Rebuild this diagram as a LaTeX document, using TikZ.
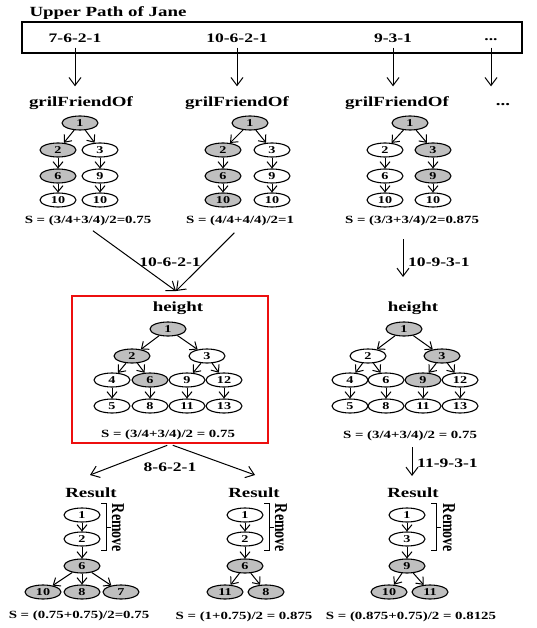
\documentclass[tikz,border=0pt]{standalone}
\usepackage{fontspec}
\setmainfont{Liberation Serif}[FakeStretch=1.35]
\newfontfamily\remfont{Liberation Serif}
\usetikzlibrary{arrows.meta, shapes}
\definecolor{hitgray}{rgb}{0.75,0.75,0.75}
\definecolor{boxred}{rgb}{0.93,0.06,0.06}

\begin{document}
\begin{tikzpicture}[x=1pt, y=-1pt, >={Straight Barb[length=6pt,width=10pt]}]
\tikzstyle{vertex_w}=[ellipse, draw=black, line width=1.1pt, fill=white, minimum width=36pt, minimum height=14pt, inner sep=0pt, font=\fontsize{10.5}{11}\selectfont\bfseries]
\tikzstyle{vertex_g}=[vertex_w, fill=hitgray]
\tikzstyle{title_t}=[font=\fontsize{14}{16}\selectfont\bfseries, inner sep=1pt]
\tikzstyle{path_t}=[font=\fontsize{13}{15}\selectfont\bfseries, inner sep=2pt]
\tikzstyle{score_t}=[font=\fontsize{11}{13}\selectfont\bfseries, inner sep=1pt]
\tikzstyle{remove_t}=[rotate=-90, font=\remfont\fontsize{14}{16}\selectfont\bfseries, inner sep=0pt]
\tikzstyle{edge}=[->, line width=1pt]
\tikzstyle{bigedge}=[-{Straight Barb[length=8pt,width=12pt]}, line width=1pt]

\useasboundingbox (0,0) rectangle (536,628);

\path (108,13) node[title_t](upper) {Upper Path of Jane}
      (272,37.5) node[draw, line width=1.2pt, minimum width=500pt, minimum height=31pt, inner sep=0pt](pathbox) {};

\path (75,38) node[path_t](p1) {7-6-2-1}
      (237,38) node[path_t](p2) {10-6-2-1}
      (393,38) node[path_t](p3) {9-3-1}
      (491,40) node[path_t](p4) {...};

\path (81,103) node[title_t](tA) {grilFriendOf}
      (237,103) node[title_t](tB) {grilFriendOf}
      (397,103) node[title_t](tC) {grilFriendOf}
      (503,105) node[title_t](tD) {...};

\draw[bigedge, shorten <=3pt, shorten >=9pt] (p1.south) -- (p1.south |- tA.north);
\draw[bigedge, shorten <=3pt, shorten >=9pt] (p2.south) -- (p2.south |- tA.north);
\draw[bigedge, shorten <=3pt, shorten >=9pt] (p3.south) -- (p3.south |- tA.north);
\draw[bigedge, shorten <=3pt, shorten >=9pt] (p4.south |- p1.south) -- (p4.south |- tA.north);

\path (80,123) node[vertex_g](a1) {1}
      (58,150) node[vertex_g](a2) {2}
      (100,150) node[vertex_w](a3) {3}
      (58,176) node[vertex_g](a6) {6}
      (100,176) node[vertex_w](a9) {9}
      (58,200) node[vertex_w](a10) {10}
      (100,200) node[vertex_w](a10r) {10};

\path (250,123) node[vertex_g](b1) {1}
      (223,150) node[vertex_g](b2) {2}
      (272,150) node[vertex_w](b3) {3}
      (223,176) node[vertex_g](b6) {6}
      (272,176) node[vertex_w](b9) {9}
      (223,200) node[vertex_g](b10) {10}
      (272,200) node[vertex_w](b10r) {10};

\path (410,123) node[vertex_g](c1) {1}
      (385,150) node[vertex_w](c2) {2}
      (433,150) node[vertex_g](c3) {3}
      (385,176) node[vertex_w](c6) {6}
      (433,176) node[vertex_g](c9) {9}
      (385,200) node[vertex_w](c10) {10}
      (433,200) node[vertex_w](c10r) {10};

\draw[edge] (a1) -- (a2);
\draw[edge] (a1) -- (a3);
\draw[edge] (a2) -- (a6);
\draw[edge] (a3) -- (a9);
\draw[edge] (a6) -- (a10);
\draw[edge] (a9) -- (a10r);
\draw[edge] (b1) -- (b2);
\draw[edge] (b1) -- (b3);
\draw[edge] (b2) -- (b6);
\draw[edge] (b3) -- (b9);
\draw[edge] (b6) -- (b10);
\draw[edge] (b9) -- (b10r);
\draw[edge] (c1) -- (c2);
\draw[edge] (c1) -- (c3);
\draw[edge] (c2) -- (c6);
\draw[edge] (c3) -- (c9);
\draw[edge] (c6) -- (c10);
\draw[edge] (c9) -- (c10r);

\path (88,221) node[score_t](sA) {S = (3/4+3/4)/2=0.75}
      (240,221) node[score_t](sB) {S = (4/4+4/4)/2=1}
      (412,221) node[score_t](sC) {S = (3/3+3/4)/2=0.875};

\coordinate (hIn) at (176,291);
\coordinate (hRIn) at (403,277);
\draw[bigedge, shorten <=6pt] (sA.south) -- (hIn);
\draw[bigedge, shorten <=8pt] (sB.south) -- (hIn);
\draw[bigedge, shorten <=12pt] (sC.south -| hRIn) -- (hRIn);
\path (170,262) node[path_t](lA) {10-6-2-1}
      (406,262) node[path_t, anchor=west](lC) {10-9-3-1};

\path (170,369.5) node[draw=boxred, line width=2.5pt, minimum width=196pt, minimum height=147pt, inner sep=0pt](hBox) {};

\path (178,308) node[title_t](hL) {height}
      (413,308) node[title_t](hR) {height};

\path (168,329) node[vertex_g](e1) {1}
      (132,356) node[vertex_g](e2) {2}
      (207,356) node[vertex_w](e3) {3}
      (112,380) node[vertex_w](e4) {4}
      (150,380) node[vertex_g](e6) {6}
      (187,380) node[vertex_w](e9) {9}
      (224,380) node[vertex_w](e12) {12}
      (112,406) node[vertex_w](e5) {5}
      (150,406) node[vertex_w](e8) {8}
      (187,406) node[vertex_w](e11) {11}
      (224,406) node[vertex_w](e13) {13};

\path (404,329) node[vertex_g](f1) {1}
      (368,356) node[vertex_w](f2) {2}
      (442,356) node[vertex_g](f3) {3}
      (350,380) node[vertex_w](f4) {4}
      (386,380) node[vertex_w](f6) {6}
      (423,380) node[vertex_g](f9) {9}
      (460,380) node[vertex_w](f12) {12}
      (350,406) node[vertex_w](f5) {5}
      (386,406) node[vertex_w](f8) {8}
      (423,406) node[vertex_w](f11) {11}
      (460,406) node[vertex_w](f13) {13};

\draw[edge] (e1) -- (e2);
\draw[edge] (e1) -- (e3);
\draw[edge] (e2) -- (e4);
\draw[edge] (e2) -- (e6);
\draw[edge] (e3) -- (e9);
\draw[edge] (e3) -- (e12);
\draw[edge] (e4) -- (e5);
\draw[edge] (e6) -- (e8);
\draw[edge] (e9) -- (e11);
\draw[edge] (e12) -- (e13);
\draw[edge] (f1) -- (f2);
\draw[edge] (f1) -- (f3);
\draw[edge] (f2) -- (f4);
\draw[edge] (f2) -- (f6);
\draw[edge] (f3) -- (f9);
\draw[edge] (f3) -- (f12);
\draw[edge] (f4) -- (f5);
\draw[edge] (f6) -- (f8);
\draw[edge] (f9) -- (f11);
\draw[edge] (f12) -- (f13);

\path (168,435) node[score_t](hsL) {S = (3/4+3/4)/2 = 0.75}
      (410,436) node[score_t](hsR) {S = (3/4+3/4)/2 = 0.75};

\coordinate (rAIn) at (90,475);
\coordinate (rBIn) at (255,475);
\coordinate (rCIn) at (412,476);
\draw[bigedge, shorten <=3pt] (hBox.south) -- (rAIn);
\draw[bigedge, shorten <=3pt] (hBox.south) -- (rBIn);
\draw[bigedge, shorten <=5pt] (hsR.south -| rCIn) -- (rCIn);
\path (170,467) node[path_t](lD) {8-6-2-1}
      (415,463) node[path_t, anchor=west](lE) {11-9-3-1};

\path (91,493) node[title_t](rA) {Result}
      (254,493) node[title_t](rB) {Result}
      (413,493) node[title_t](rC) {Result};

\path (82,515) node[vertex_w](ra1) {1}
      (82,539) node[vertex_w](ra2) {2}
      (82,566) node[vertex_g](ra6) {6}
      (43,592) node[vertex_g](ra10) {10}
      (82,592) node[vertex_g](ra8) {8}
      (121,592) node[vertex_g](ra7) {7};

\path (245,515) node[vertex_w](rb1) {1}
      (245,539) node[vertex_w](rb2) {2}
      (245,566) node[vertex_g](rb6) {6}
      (225,592) node[vertex_g](rb11) {11}
      (266,592) node[vertex_g](rb8) {8};

\path (407,515) node[vertex_w](rc1) {1}
      (407,539) node[vertex_w](rc3) {3}
      (407,566) node[vertex_g](rc9) {9}
      (389,592) node[vertex_g](rc10) {10}
      (430,592) node[vertex_g](rc11) {11};

\draw[edge] (ra1) -- (ra2);
\draw[edge] (ra2) -- (ra6);
\draw[edge] (ra6) -- (ra10);
\draw[edge] (ra6) -- (ra8);
\draw[edge] (ra6) -- (ra7);
\draw[edge] (rb1) -- (rb2);
\draw[edge] (rb2) -- (rb6);
\draw[edge] (rb6) -- (rb11);
\draw[edge] (rb6) -- (rb8);
\draw[edge] (rc1) -- (rc3);
\draw[edge] (rc3) -- (rc9);
\draw[edge] (rc9) -- (rc10);
\draw[edge] (rc9) -- (rc11);

\draw[line width=1pt] (101,503) -- (106,503) -- (106,550) -- (101,550) (106,527) -- (111,527);
\draw[line width=1pt] (264,503) -- (269,503) -- (269,550) -- (264,550) (269,527) -- (274,527);
\draw[line width=1pt] (431,503) -- (436,503) -- (436,550) -- (431,550) (436,527) -- (441,527);
\path (118,528) node[remove_t](mA) {\scalebox{1}[1.3]{Remove}}
      (281,528) node[remove_t](mB) {\scalebox{1}[1.3]{Remove}}
      (449,528) node[remove_t](mC) {\scalebox{1}[1.3]{Remove}};

\path (79,616) node[score_t](ssA) {S = (0.75+0.75)/2=0.75}
      (244,617) node[score_t](ssB) {S = (1+0.75)/2 = 0.875}
      (411,617) node[score_t](ssC) {S = (0.875+0.75)/2 = 0.8125};

\end{tikzpicture}
\end{document}
